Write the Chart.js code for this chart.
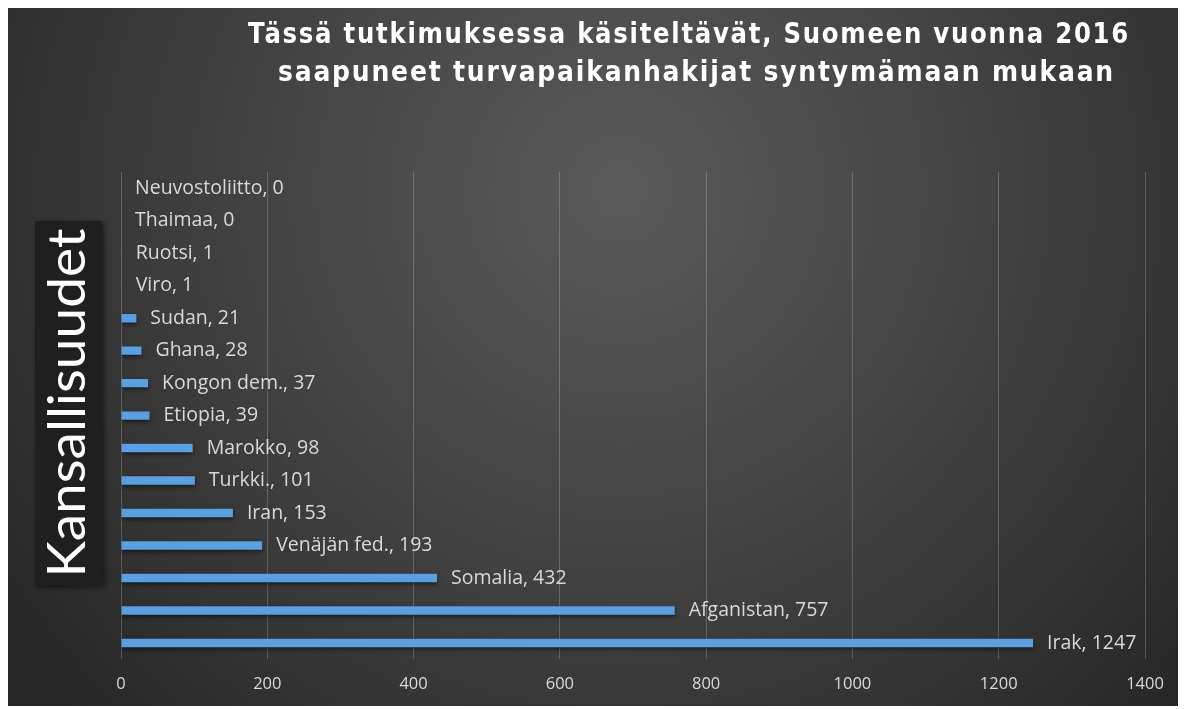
<!DOCTYPE html>
<html>
<head>
<meta charset="utf-8">
<script src="https://cdn.jsdelivr.net/npm/chart.js@4.4.1/dist/chart.umd.min.js"></script>
<style>
  html, body { margin: 0; padding: 0; background: #ffffff; }
  #wrap { width: 1186px; height: 709px; position: relative; }
</style>
</head>
<body>
<div id="wrap"><canvas id="c" width="1186" height="709"></canvas></div>
<script>
const titleLines = ["Tässä tutkimuksessa käsiteltävät, Suomeen vuonna 2016", "saapuneet turvapaikanhakijat syntymämaan mukaan"];
const axisTitle = "Kansallisuudet";
const categories = ["Neuvostoliitto", "Thaimaa", "Ruotsi", "Viro", "Sudan", "Ghana", "Kongon dem.", "Etiopia", "Marokko", "Turkki.", "Iran", "Venäjän fed.", "Somalia", "Afganistan", "Irak"];
const values = [0, 0, 1, 1, 21, 28, 37, 39, 98, 101, 153, 193, 432, 757, 1247];
const xTicks = [0, 200, 400, 600, 800, 1000, 1200, 1400];

const labelFont = '19.5px "Open Sans", Lato, sans-serif';

const bgPlugin = {
  id: 'bg',
  beforeDraw(chart) {
    const ctx = chart.ctx;
    ctx.save();
    ctx.fillStyle = '#ffffff';
    ctx.fillRect(0, 0, chart.width, chart.height);
    const g = ctx.createRadialGradient(620, 190, 0, 620, 190, 760);
    g.addColorStop(0, '#5a5a5a');
    g.addColorStop(0.55, '#3f3f3f');
    g.addColorStop(1, '#262626');
    ctx.fillStyle = g;
    ctx.fillRect(8, 8, 1170, 698);
    // axis title box
    ctx.shadowColor = 'rgba(0,0,0,0.6)';
    ctx.shadowBlur = 6;
    ctx.shadowOffsetX = 2;
    ctx.shadowOffsetY = 2;
    ctx.fillStyle = '#1f1f1f';
    ctx.fillRect(35, 221, 67, 364);
    ctx.restore();
    // axis title text
    ctx.save();
    ctx.translate(68, 403);
    ctx.rotate(-Math.PI / 2);
    ctx.font = '52px Lato, "Open Sans", sans-serif';
    ctx.fillStyle = '#ffffff';
    ctx.textAlign = 'center';
    ctx.textBaseline = 'middle';
    const wt = ctx.measureText(axisTitle).width;
    ctx.scale(349 / wt, 1);
    ctx.fillText(axisTitle, 0, 0);
    ctx.restore();
    // main title
    const targets = [[248, 1130, 36], [278, 1115, 74]];
    titleLines.forEach((line, i) => {
      const [x0, x1, y] = targets[i];
      ctx.save();
      ctx.font = 'bold 28px "DejaVu Sans", sans-serif';
      ctx.letterSpacing = '2px';
      ctx.fillStyle = '#ffffff';
      ctx.textAlign = 'left';
      ctx.textBaseline = 'middle';
      const w0 = ctx.measureText(line).width;
      ctx.translate(x0, y);
      ctx.scale((x1 - x0) / w0, 1);
      ctx.fillText(line, 0, 0);
      ctx.letterSpacing = '0px';
      ctx.restore();
    });
  },
  beforeDatasetsDraw(chart) {
    const ctx = chart.ctx;
    ctx.save();
    ctx.shadowColor = 'rgba(0,0,0,0.55)';
    ctx.shadowBlur = 4;
    ctx.shadowOffsetY = 2;
  },
  afterDatasetsDraw(chart) {
    const ctx = chart.ctx;
    ctx.restore();
    ctx.save();
    ctx.font = labelFont;
    ctx.fillStyle = '#d9d9d9';
    ctx.textAlign = 'left';
    ctx.textBaseline = 'middle';
    const meta = chart.getDatasetMeta(0);
    meta.data.forEach((bar, i) => {
      ctx.fillText(categories[i] + ', ' + values[i], bar.x + 14, bar.y);
    });
    ctx.restore();
  }
};

new Chart(document.getElementById('c'), {
  type: 'bar',
  data: {
    labels: categories,
    datasets: [{
      data: values,
      backgroundColor: '#5a9fe0',
      borderWidth: 0,
      barPercentage: 0.26,
      categoryPercentage: 1
    }]
  },
  options: {
    indexAxis: 'y',
    responsive: false,
    animation: false,
    devicePixelRatio: 1,
    layout: { padding: { left: 121, right: 41, top: 172, bottom: 0 } },
    plugins: { legend: { display: false }, title: { display: false }, tooltip: { enabled: false } },
    scales: {
      x: {
        min: 0,
        max: 1400,
        afterBuildTicks(scale) { scale.ticks = xTicks.map(v => ({ value: v })); },
        grid: { color: 'rgba(255,255,255,0.2)', drawTicks: false, lineWidth: 1 },
        border: { display: false },
        ticks: {
          color: '#d9d9d9',
          font: { family: '"Open Sans", Lato, sans-serif', size: 16.5 },
          padding: 15,
          maxRotation: 0,
          callback: (v) => String(v)
        }
      },
      y: {
        display: false
      }
    }
  },
  plugins: [bgPlugin]
});
</script>
</body>
</html>
